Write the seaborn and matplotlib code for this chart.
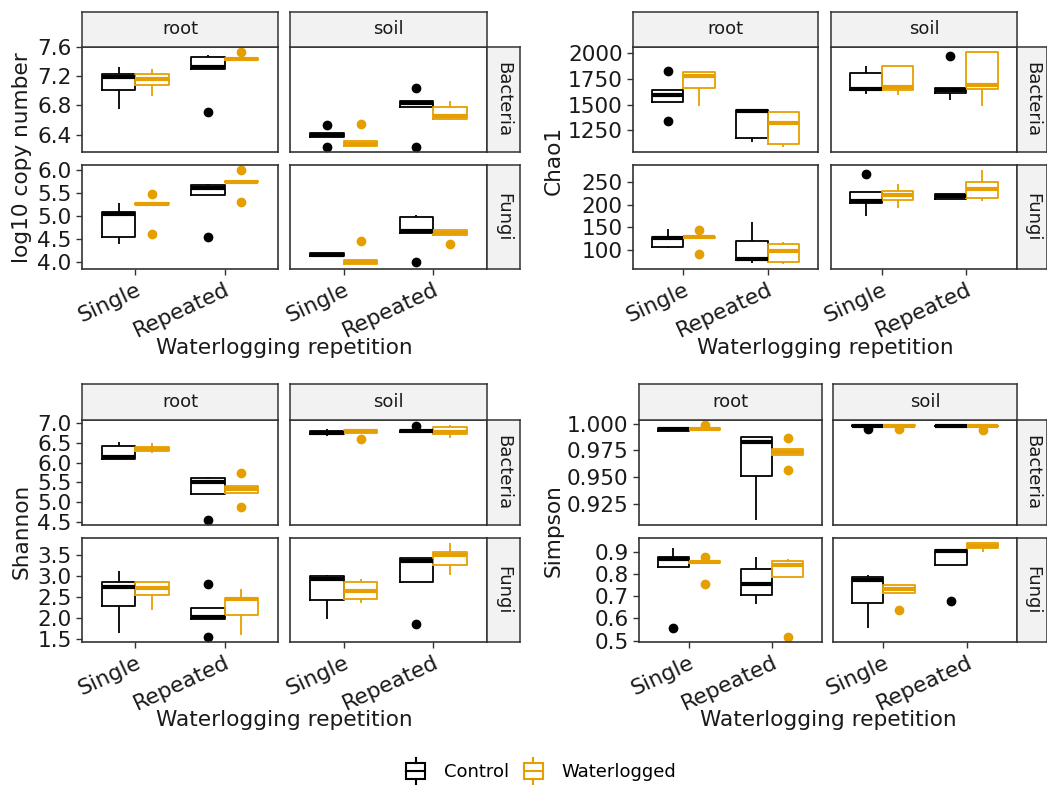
import numpy as np
import pandas as pd
import seaborn as sns
import matplotlib
matplotlib.use("Agg")
import matplotlib.pyplot as plt
from matplotlib.lines import Line2D
from matplotlib.patches import Rectangle
from matplotlib.legend_handler import HandlerBase

# facets / groups
compartments = ["root", "soil"]
kingdoms = ["Bacteria", "Fungi"]
repetition = ["Single", "Repeated"]
treatment = ["Control", "Waterlogged"]
# order inside every list below: Single-Control, Single-Waterlogged, Repeated-Control, Repeated-Waterlogged
groups = [("Single", "Control"), ("Single", "Waterlogged"), ("Repeated", "Control"), ("Repeated", "Waterlogged")]

# log10 copy number
copy_root_bac = [[6.75, 7.01, 7.19, 7.24, 7.33], [6.93, 7.08, 7.16, 7.24, 7.30],
                 [6.71, 7.30, 7.33, 7.47, 7.50], [7.42, 7.42, 7.44, 7.46, 7.54]]
copy_soil_bac = [[6.225, 6.37, 6.40, 6.42, 6.53], [6.23, 6.24, 6.27, 6.31, 6.54],
                 [6.225, 6.78, 6.83, 6.86, 7.04], [6.60, 6.61, 6.65, 6.78, 6.86]]
copy_root_fun = [[4.39, 4.54, 5.03, 5.08, 5.27], [4.60, 5.25, 5.26, 5.27, 5.47],
                 [4.54, 5.45, 5.61, 5.66, 5.70], [5.31, 5.73, 5.74, 5.75, 6.00]]
copy_soil_fun = [[4.12, 4.12, 4.16, 4.20, 4.20], [3.95, 3.95, 3.99, 4.05, 4.45],
                 [3.99, 4.63, 4.68, 4.97, 5.02], [4.38, 4.58, 4.63, 4.70, 4.70]]

# Chao1
chao_root_bac = [[1340, 1521, 1596, 1638, 1822], [1483, 1660, 1774, 1812, 1815],
                 [1134, 1182, 1441, 1450, 1455], [1088, 1117, 1321, 1428, 1430]]
chao_soil_bac = [[1602, 1638, 1651, 1806, 1877], [1593, 1640, 1670, 1871, 1878],
                 [1547, 1610, 1645, 1665, 1968], [1489, 1651, 1693, 2010, 2012]]
chao_root_fun = [[104, 106, 125, 129, 146], [90, 127, 128, 129, 144],
                 [71, 77, 80, 119, 162], [68, 73, 97, 113, 118]]
chao_soil_fun = [[175, 204, 208, 228, 268], [193, 211, 222, 231, 246],
                 [213, 213, 218, 224, 224], [208, 215, 235, 250, 277]]

# Shannon
shan_root_bac = [[6.10, 6.10, 6.14, 6.41, 6.52], [6.23, 6.30, 6.35, 6.40, 6.50],
                 [4.55, 5.21, 5.50, 5.60, 5.63], [4.87, 5.23, 5.33, 5.41, 5.73]]
shan_soil_bac = [[6.66, 6.71, 6.75, 6.80, 6.85], [6.585, 6.74, 6.79, 6.83, 6.84],
                 [6.77, 6.78, 6.80, 6.83, 6.92], [6.63, 6.73, 6.78, 6.89, 6.95]]
shan_root_fun = [[1.66, 2.29, 2.74, 2.85, 3.12], [2.19, 2.55, 2.72, 2.85, 2.85],
                 [1.55, 1.98, 2.02, 2.25, 2.81], [1.615, 2.085, 2.45, 2.485, 2.69]]
shan_soil_fun = [[1.985, 2.42, 2.92, 3.00, 3.01], [2.35, 2.45, 2.64, 2.85, 2.93],
                 [1.87, 2.85, 3.35, 3.41, 3.42], [3.01, 3.25, 3.48, 3.57, 3.78]]

# Simpson
simp_root_bac = [[0.9930, 0.9935, 0.9950, 0.9962, 0.9965], [0.9943, 0.9945, 0.9952, 0.9960, 0.9985],
                 [0.9096, 0.9506, 0.9827, 0.9877, 0.9880], [0.9565, 0.9710, 0.9738, 0.9765, 0.9867]]
simp_soil_bac = [[0.9955, 0.9975, 0.9980, 0.9985, 0.9990], [0.9955, 0.9976, 0.9980, 0.9984, 0.9988],
                 [0.9975, 0.9977, 0.9980, 0.9983, 0.9985], [0.9945, 0.9975, 0.9978, 0.9982, 0.9984]]
simp_root_fun = [[0.555, 0.829, 0.867, 0.878, 0.918], [0.755, 0.848, 0.852, 0.858, 0.878],
                 [0.663, 0.703, 0.756, 0.821, 0.875], [0.515, 0.786, 0.841, 0.860, 0.867]]
simp_soil_fun = [[0.555, 0.667, 0.774, 0.785, 0.796], [0.636, 0.715, 0.733, 0.749, 0.750],
                 [0.678, 0.838, 0.903, 0.906, 0.908], [0.900, 0.915, 0.925, 0.938, 0.940]]

# y ticks per metric (Bacteria row, Fungi row)
copy_ticks = ([6.4, 6.8, 7.2, 7.6], [4.0, 4.5, 5.0, 5.5, 6.0])
chao_ticks = ([1250, 1500, 1750, 2000], [100, 150, 200, 250])
shan_ticks = ([4.5, 5.0, 5.5, 6.0, 6.5, 7.0], [1.5, 2.0, 2.5, 3.0, 3.5])
simp_ticks = ([0.925, 0.950, 0.975, 1.000], [0.5, 0.6, 0.7, 0.8, 0.9])

palette = {"Control": "#000000", "Waterlogged": "#E69F00"}


def to_long(metric, tables):
    rows = []
    for (comp, king), table in tables.items():
        for (rep, trt), vals in zip(groups, table):
            for v in vals:
                rows.append((metric, comp, king, rep, trt, v))
    return rows


records = []
records += to_long("copy", {("root", "Bacteria"): copy_root_bac, ("soil", "Bacteria"): copy_soil_bac,
                            ("root", "Fungi"): copy_root_fun, ("soil", "Fungi"): copy_soil_fun})
records += to_long("chao", {("root", "Bacteria"): chao_root_bac, ("soil", "Bacteria"): chao_soil_bac,
                            ("root", "Fungi"): chao_root_fun, ("soil", "Fungi"): chao_soil_fun})
records += to_long("shannon", {("root", "Bacteria"): shan_root_bac, ("soil", "Bacteria"): shan_soil_bac,
                               ("root", "Fungi"): shan_root_fun, ("soil", "Fungi"): shan_soil_fun})
records += to_long("simpson", {("root", "Bacteria"): simp_root_bac, ("soil", "Bacteria"): simp_soil_bac,
                               ("root", "Fungi"): simp_root_fun, ("soil", "Fungi"): simp_soil_fun})
df = pd.DataFrame(records, columns=["metric", "compartment", "kingdom", "repetition", "treatment", "value"])

W, H = 1047, 785
fig = plt.figure(figsize=(W / 100, H / 100), dpi=100)
plt.rcParams["font.family"] = ["DejaVu Sans"]

TICK_FS = 15.6
TITLE_FS = 15.6
STRIP_FS = 13
EDGE = "#333333"


def px_box(x0, y0, x1, y1):
    return [x0 / W, 1 - y1 / H, (x1 - x0) / W, (y1 - y0) / H]


def strip(box, label, rotation=0):
    sax = fig.add_axes(px_box(*box))
    sax.set_facecolor("#f2f2f2")
    sax.set_xticks([])
    sax.set_yticks([])
    for s in sax.spines.values():
        s.set_color(EDGE)
        s.set_linewidth(1.1)
    sax.text(0.5, 0.5, label, ha="center", va="center", rotation=rotation,
             fontsize=STRIP_FS, color="#1a1a1a", transform=sax.transAxes)


def draw_panel(metric, ylabel, cols, rows, strip_top, strip_right, ylab_xy, xlab_xy, ticks, fmts):
    sub = df[df.metric == metric]
    for ri, king in enumerate(kingdoms):
        rowdata = sub[sub.kingdom == king]
        lo, hi = rowdata.value.min(), rowdata.value.max()
        pad = (hi - lo) * 0.05
        for ci, comp in enumerate(compartments):
            ax = fig.add_axes(px_box(cols[ci][0], rows[ri][0], cols[ci][1], rows[ri][1]))
            d = rowdata[rowdata.compartment == comp]
            sns.boxplot(data=d, x="repetition", y="value", hue="treatment",
                        order=repetition, hue_order=treatment, palette=palette,
                        fill=False, width=0.75, gap=0, showcaps=False, linewidth=1.3,
                        medianprops=dict(linewidth=3),
                        flierprops=dict(marker="o", markersize=6),
                        legend=False, ax=ax)
            for ln in ax.lines:
                if ln.get_marker() == "o":
                    ln.set_markerfacecolor(ln.get_markeredgecolor())
            ax.set_xlim(-0.6, 1.6)
            ax.set_ylim(lo - pad, hi + pad)
            ax.set_xlabel("")
            ax.set_ylabel("")
            for s in ax.spines.values():
                s.set_color(EDGE)
                s.set_linewidth(1.2)
            ax.tick_params(colors=EDGE, length=4, width=1, labelsize=TICK_FS, labelcolor="#1a1a1a")
            if ci == 0:
                ax.set_yticks(ticks[ri])
                ax.set_yticklabels([fmts[ri] % t for t in ticks[ri]])
            else:
                ax.tick_params(left=False, labelleft=False)
            if ri == 1:
                ax.set_xticks([0, 1])
                ax.set_xticklabels(repetition, rotation=25, ha="right", rotation_mode="anchor")
            else:
                ax.tick_params(bottom=False, labelbottom=False)
            if ri == 0:
                strip((cols[ci][0], strip_top[0], cols[ci][1], strip_top[1]), comp)
        strip((strip_right[0], rows[ri][0], strip_right[1], rows[ri][1]), king, rotation=-90)
    fig.text(ylab_xy[0] / W, 1 - ylab_xy[1] / H, ylabel, rotation=90, ha="center", va="center",
             fontsize=TITLE_FS, color="#1a1a1a")
    fig.text(xlab_xy[0] / W, 1 - xlab_xy[1] / H, "Waterlogging repetition", ha="center", va="center",
             fontsize=TITLE_FS, color="#1a1a1a")


draw_panel("copy", "log10 copy number", [(82, 278), (290, 487)], [(47, 152), (165, 269)],
           (12, 47), (487, 520), (22, 158), (284, 348), copy_ticks, ("%.1f", "%.1f"))
draw_panel("chao", "Chao1", [(633, 818), (831, 1017)], [(47, 152), (165, 269)],
           (12, 47), (1017, 1047), (554, 160), (825, 348), chao_ticks, ("%d", "%d"))
draw_panel("shannon", "Shannon", [(82, 278), (290, 487)], [(420, 525), (538, 642)],
           (384, 420), (487, 520), (22, 531), (284, 720), shan_ticks, ("%.1f", "%.1f"))
draw_panel("simpson", "Simpson", [(639, 822), (833, 1017)], [(420, 525), (538, 642)],
           (384, 420), (1017, 1047), (554, 531), (828, 720), simp_ticks, ("%.3f", "%.1f"))


class BoxHandler(HandlerBase):
    def create_artists(self, legend, orig_handle, xdescent, ydescent, width, height, fontsize, trans):
        c = orig_handle.get_color()
        x0, x1 = -xdescent + 0.1 * width, -xdescent + 0.9 * width
        yb, yt = -ydescent + 0.0 * height, -ydescent + 1.0 * height
        xm, ym = (x0 + x1) / 2, (yb + yt) / 2
        rect = Rectangle((x0, yb), x1 - x0, yt - yb, fc="white", ec=c, lw=1.5, transform=trans)
        med = Line2D([x0, x1], [ym, ym], color=c, lw=1.5, transform=trans)
        wt = Line2D([xm, xm], [yt, yt + 0.3 * height], color=c, lw=1.5, transform=trans)
        wb = Line2D([xm, xm], [yb - 0.3 * height, yb], color=c, lw=1.5, transform=trans)
        return [rect, med, wt, wb]


handles = [Line2D([], [], color=palette[t]) for t in treatment]
fig.legend(handles, treatment, handler_map={Line2D: BoxHandler()}, loc="center",
           bbox_to_anchor=(540 / W, 1 - 772 / H), ncol=2, frameon=False, fontsize=STRIP_FS,
           handlelength=1.3, handleheight=1.0, handletextpad=0.9, columnspacing=0.7)

fig.savefig("out.png", dpi=100)
